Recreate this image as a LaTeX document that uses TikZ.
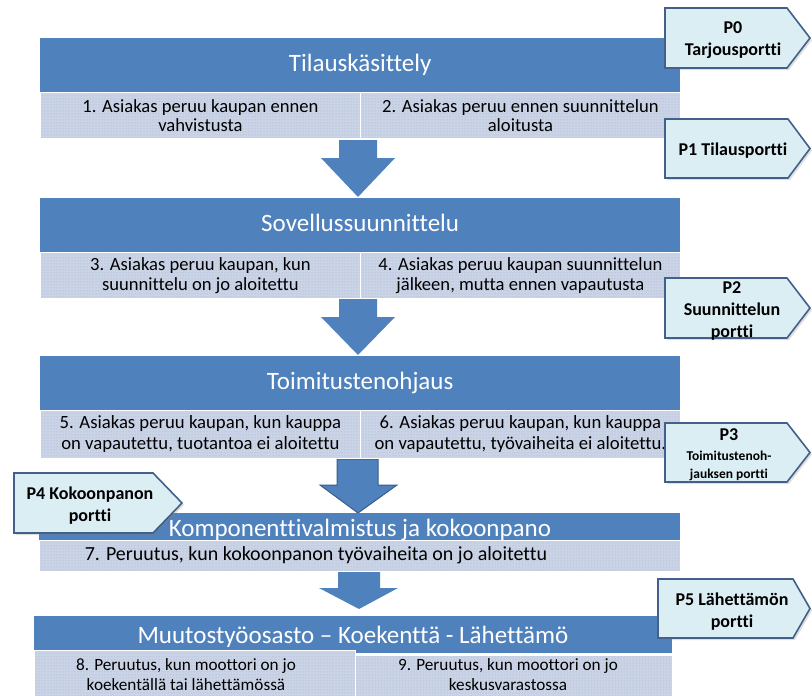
\documentclass[tikz,border=0pt]{standalone}
\usepackage{fontspec}
\setmainfont[Ligatures=NoCommon]{Carlito}
\usetikzlibrary{patterns,shadows}
\definecolor{barblue}{RGB}{79,129,189}
\definecolor{barline}{RGB}{56,93,138}
\definecolor{itemfill}{RGB}{203,212,230}
\definecolor{itemdot}{RGB}{160,176,206}
\definecolor{portfill}{RGB}{219,238,244}
\definecolor{portline}{RGB}{66,96,138}

\begin{document}
\begin{tikzpicture}[x=1pt,y=-1pt,
  bar/.style={fill=barblue, text=white, inner sep=0pt, anchor=north west,
    text height=18pt, text depth=6pt, font=\fontsize{25}{30}\selectfont},
  item/.style={preaction={fill=itemfill}, pattern=dots, pattern color=itemdot,
    draw=white, line width=0.8pt, inner sep=0pt, anchor=north west,
    align=center, text=black},
  itemtext/.style={inner sep=0pt, align=center, text=black},
  flow/.style={fill=barblue},
  gate/.style={fill=portfill, draw=portline, line width=1.6pt, line join=miter,
    drop shadow={shadow xshift=2pt, shadow yshift=-2pt, opacity=0.25}},
  gatetext/.style={font=\bfseries\fontsize{18}{22}\selectfont, align=center, inner sep=0pt}
]
\useasboundingbox (0,0) rectangle (812,696);

% --- block arrows between the stages ---
\path[flow] (339,140) -- (377,140) -- (377,158) -- (395,158) -- (358,197)
  -- (321,158) -- (339,158) -- cycle;
\path[flow] (339,298) -- (377,298) -- (377,317) -- (395,317) -- (358,355)
  -- (321,317) -- (339,317) -- cycle;
\path[flow, draw=barline, line width=1pt] (337,459) -- (378,459) -- (378,485)
  -- (397,485) -- (358,513) -- (320,485) -- (337,485) -- cycle;
\path[flow] (338,571) -- (380,571) -- (380,588) -- (398,588) -- (359,609)
  -- (319,588) -- (338,588) -- cycle;

% --- stage 1 ---
\node[bar, minimum width=640pt, minimum height=54pt] (s1) at (40,38) {Tilauskäsittely};
\begin{scope}[font=\fontsize{18.6}{19.5}\selectfont]
\node[item, minimum width=320pt, minimum height=46pt] (i1) at (40,92)
  {1. Asiakas peruu kaupan ennen\\vahvistusta};
\node[item, minimum width=320pt, minimum height=46pt] (i2) at (360,92)
  {2. Asiakas peruu ennen suunnittelun\\aloitusta};
\end{scope}

% --- stage 2 ---
\node[bar, minimum width=640pt, minimum height=54pt] (s2) at (40,198) {Sovellussuunnittelu};
\begin{scope}[font=\fontsize{18.6}{20}\selectfont]
\node[item, minimum width=320pt, minimum height=46pt] (i3) at (40,252)
  {3. Asiakas peruu kaupan, kun\\suunnittelu on jo aloitettu};
\node[item, minimum width=320pt, minimum height=46pt] (i4) at (360,252)
  {4. Asiakas peruu kaupan suunnittelun\\jälkeen, mutta ennen vapautusta};
\end{scope}

% --- stage 3 ---
\node[bar, minimum width=640pt, minimum height=54pt] (s3) at (40,356) {Toimitustenohjaus};
\begin{scope}[font=\fontsize{18.7}{21}\selectfont]
\node[item, minimum width=320pt, minimum height=48pt] (i5) at (40,410)
  {5. Asiakas peruu kaupan, kun kauppa\\on vapautettu, tuotantoa ei aloitettu};
\node[item, minimum width=320pt, minimum height=48pt] (i6) at (360,410)
  {6. Asiakas peruu kaupan, kun kauppa\\on vapautettu, työvaiheita ei aloitettu.};
\end{scope}

% --- stage 4 ---
\node[bar, minimum width=641pt, minimum height=27pt] (s4) at (39,513) {};
\node[inner sep=0pt, text=white, font=\fontsize{25}{30}\selectfont, anchor=base]
  (s4t) at (360,536) {Komponenttivalmistus ja kokoonpano};
\node[item, minimum width=641pt, minimum height=31pt] (i7) at (39,540) {};
\node[itemtext, font=\fontsize{20}{22}\selectfont, anchor=base] (t7) at (316,560)
  {7. Peruutus, kun kokoonpanon työvaiheita on jo aloitettu};

% --- stage 5 ---
\node[bar, minimum width=638pt, minimum height=37pt] (s5) at (34,616) {};
\node[inner sep=0pt, text=white, font=\fontsize{25}{30}\selectfont, anchor=base]
  (s5t) at (353,643) {Muutostyöosasto – Koekenttä - Lähettämö};
\node[item, minimum width=321pt, minimum height=47pt] (i8) at (34,650) {};
\node[item, minimum width=317pt, minimum height=42pt] (i9) at (355,655) {};
\node[itemtext, font=\fontsize{17.2}{20}\selectfont] (t8) at (186,675)
  {8. Peruutus, kun moottori on jo\\koekentällä tai lähettämössä};
\node[itemtext, font=\fontsize{17.2}{20}\selectfont] (t9) at (508,675)
  {9. Peruutus, kun moottori on jo\\keskusvarastossa};

% --- gates ---
\path[gate] (665,8) -- (787,8) -- (810,38) -- (787,68) -- (665,68) -- cycle;
\node[gatetext] (p0) at (733,40) {P0\\Tarjousportti};

\path[gate] (665,119) -- (788,119) -- (810,148.5) -- (788,178) -- (665,178) -- cycle;
\node[gatetext] (p1) at (733,151) {P1 Tilausportti};

\path[gate] (665,278) -- (787,278) -- (810,308) -- (787,338) -- (665,338) -- cycle;
\node[gatetext] (p2) at (732,311) {P2\\Suunnittelun\\portti};

\path[gate] (665,423) -- (787,423) -- (810,452.5) -- (787,482) -- (665,482) -- cycle;
\node[gatetext, font=\bfseries\fontsize{13.5}{18}\selectfont] (p3) at (729,455)
  {{\fontsize{18}{22}\selectfont P3}\\[2pt]Toimitustenoh-\\jauksen portti};

\path[gate] (14,473) -- (153,473) -- (182,503) -- (153,533) -- (14,533) -- cycle;
\node[gatetext] (p4) at (90,506) {P4 Kokoonpanon\\portti};

\path[gate] (658,579) -- (793,579) -- (810,608.5) -- (793,638) -- (658,638) -- cycle;
\node[gatetext] (p5) at (732,612) {P5 Lähettämön\\portti};
\end{tikzpicture}
\end{document}
